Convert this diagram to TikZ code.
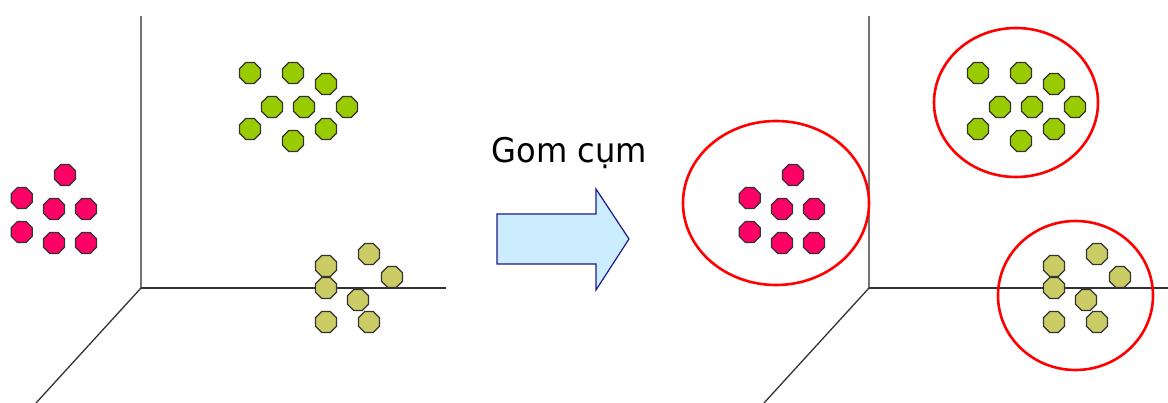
\documentclass[tikz,border=0pt]{standalone}
\usepackage{fontspec}
\setmainfont{DejaVu Sans}
\usetikzlibrary{shapes.geometric}
\definecolor{pinkc}{HTML}{FF0066}
\definecolor{greenc}{HTML}{99CC00}
\definecolor{olivec}{HTML}{CCCC66}
\definecolor{arrowfill}{HTML}{CCECFF}
\definecolor{arrowline}{HTML}{1A1A8C}
\begin{document}
\begin{tikzpicture}[x=1pt,y=-1pt,
  oct/.style={regular polygon, regular polygon sides=8, minimum size=22.7pt, inner sep=0pt, draw=black!80, line width=1.2pt},
  pinkoct/.style={oct, fill=pinkc},
  greenoct/.style={oct, fill=greenc},
  oliveoct/.style={oct, fill=olivec},
  axisv/.style={draw=black!55, line width=2pt},
  axish/.style={draw=black!80, line width=1.3pt},
  cluster/.style={draw=red, line width=2.6pt, ellipse, inner sep=0pt},
  bigarrow/.style={draw=arrowline, fill=arrowfill, line width=1.2pt, line join=miter}
]
\useasboundingbox (0,0) rectangle (1168,403);
% axes
\foreach \dx/\xe/\n in {0/446/L, 728/1168/R}{
  \coordinate (o\n) at (141+\dx,288);
  \coordinate (top\n) at (141+\dx,16);
  \coordinate (xe\n) at (\xe,288);
  \coordinate (de\n) at (36+\dx,403);
  \draw[axisv] (o\n) -- (top\n);
  \draw[axish] (o\n) -- (xe\n);
  \draw[axish] (o\n) -- (de\n);
}
% clusters
\foreach \dx/\n in {0/L, 728/R}{
  \foreach \x/\y [count=\i] in {65/175, 21.7/198, 54/209, 86/209, 21.7/232, 54/243, 86/243}
    \node[pinkoct] (p\n\i) at (\x+\dx,\y) {};
  \foreach \x/\y [count=\i] in {250/73, 293/73, 326/84, 272/107, 304/107, 347/107, 250/129, 293/141, 326/129}
    \node[greenoct] (g\n\i) at (\x+\dx,\y) {};
  \foreach \x/\y [count=\i] in {369/254, 326/266, 392/277, 326/288, 358/300, 326/322, 369/322}
    \node[oliveoct] (ol\n\i) at (\x+\dx,\y) {};
}
% red cluster outlines
\node[cluster, minimum width=186pt, minimum height=164pt] (cp) at (776,203) {};
\node[cluster, minimum width=164pt, minimum height=149pt] (cg) at (1016,102.5) {};
\node[cluster, minimum width=155pt, minimum height=149pt] (co) at (1075.5,295.5) {};
% arrow
\draw[bigarrow] (497,214) -- (596,214) -- (596,189) -- (629,239) -- (596,290) -- (596,264) -- (497,264) -- cycle;
\node[anchor=base, inner sep=0pt] (lbl) at (569.5,162.3) {\scalebox{0.945}[1]{\fontsize{34}{40}\selectfont Gom cụm}};
\end{tikzpicture}
\end{document}
